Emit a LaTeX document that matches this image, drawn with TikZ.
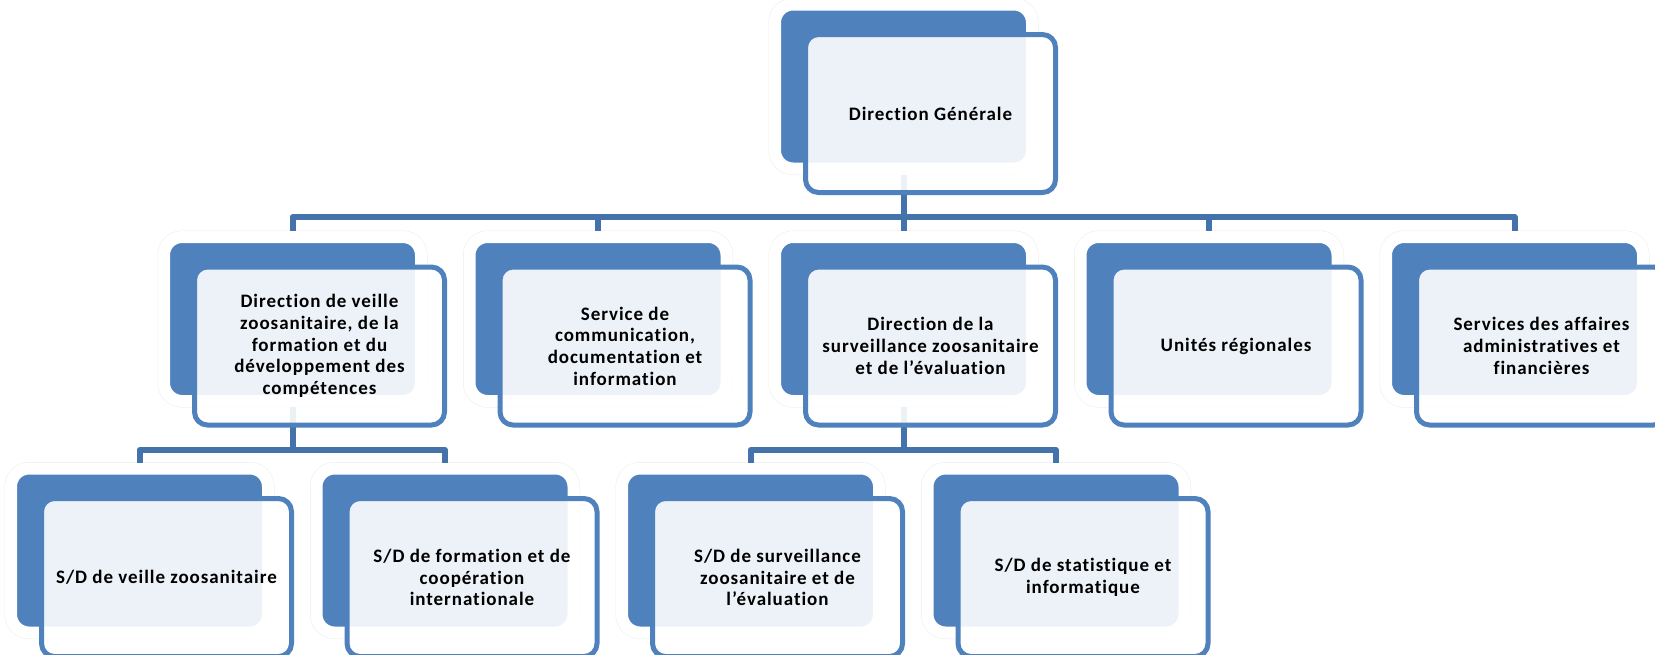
\documentclass[tikz,border=0pt]{standalone}
\usepackage{fontspec}
\setmainfont{Carlito}[LetterSpace=5,Ligatures=NoCommon]
\definecolor{boxblue}{RGB}{79,129,189}
\definecolor{linkblue}{RGB}{68,114,170}

\begin{document}
\begin{tikzpicture}[x=1pt,y=-1pt,line join=round,
  back/.style={rectangle,rounded corners=18,minimum width=257,minimum height=164,inner sep=0,
    fill=boxblue,draw=white,line width=12,preaction={draw=black!7,line width=13}},
  front/.style={rectangle,rounded corners=13,minimum width=250,minimum height=158,inner sep=0,
    draw=boxblue,line width=5,fill=white,fill opacity=0.9,text opacity=1,align=center,
    font=\fontsize{19}{21.7}\selectfont\bfseries},
  link/.style={draw=linkblue,line width=6}]
  \useasboundingbox[fill=white] (0,0) rectangle (1655,654);
  % Blue back plates: head office, first row, second row.
  \node[back] (B0) at (903.5,86.5) {};
  \node[back] (B1) at (292.5,319) {};
  \node[back] (B2) at (598,319) {};
  \node[back] (B3) at (903.5,319) {};
  \node[back] (B4) at (1209,319) {};
  \node[back] (B5) at (1514.5,319) {};
  \node[back] (B6) at (139.5,550.5) {};
  \node[back] (B7) at (445,550.5) {};
  \node[back] (B8) at (750.5,550.5) {};
  \node[back] (B9) at (1056,550.5) {};

  \coordinate (J1) at (903.5,217);
  \coordinate (J2) at (292.5,450);
  \coordinate (J3) at (903.5,450);
  \draw[link] (B0.south) -- (J1);
  \draw[link] (B1.north) |- (J1) -| (B5.north);
  \draw[link] (J1 -| B2.north) -- (B2.north);
  \draw[link] (J1) -- (B3.north);
  \draw[link] (J1 -| B4.north) -- (B4.north);
  \draw[link] (B1.south) -- (J2);
  \draw[link] (B6.north) |- (J2) -| (B7.north);
  \draw[link] (B3.south) -- (J3);
  \draw[link] (B8.north) |- (J3) -| (B9.north);

  % Framed front cards carrying the texts.
  \node[front] (F0) at ([shift={(27,27)}]B0.center) {Direction Générale};
  \node[front] (F1) at ([shift={(27,27)}]B1.center) {Direction de veille\\zoosanitaire, de la\\formation et du\\développement des\\compétences};
  \node[front] (F2) at ([shift={(27,27)}]B2.center) {Service de\\communication,\\documentation et\\information};
  \node[front] (F3) at ([shift={(27,27)}]B3.center) {Direction de la\\surveillance zoosanitaire\\et de l’évaluation};
  \node[front] (F4) at ([shift={(27,27)}]B4.center) {Unités régionales};
  \node[front] (F5) at ([shift={(27,27)}]B5.center) {Services des affaires\\administratives et\\financières};
  \node[front] (F6) at ([shift={(27,27)}]B6.center) {S/D de veille zoosanitaire};
  \node[front] (F7) at ([shift={(27,27)}]B7.center) {S/D de formation et de\\coopération\\internationale};
  \node[front] (F8) at ([shift={(27,27)}]B8.center) {S/D de surveillance\\zoosanitaire et de\\l’évaluation};
  \node[front] (F9) at ([shift={(27,27)}]B9.center) {S/D de statistique et\\informatique};
\end{tikzpicture}
\end{document}
